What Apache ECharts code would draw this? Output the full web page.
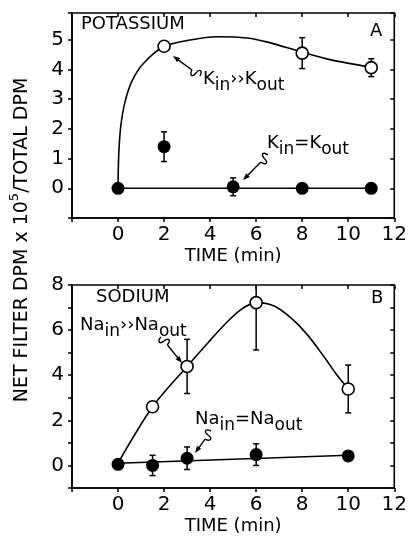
<!DOCTYPE html>
<html><head><meta charset="utf-8">
<script src="https://cdn.jsdelivr.net/npm/echarts@6/dist/echarts.min.js"></script>
<style>html,body{margin:0;padding:0;background:#fff}#c{width:410px;height:542px}</style>
</head><body><div id="c"></div>
<script>
// ---- Panel A: potassium ----
const kHighX = [2, 8, 11];
const kHighY = [4.78, 4.55, 4.06];
const kHighErr = [0, 0.52, 0.3];
const kEqX = [0, 2, 5, 8, 11];
const kEqY = [0, 1.4, 0.05, 0, 0];
const kEqErr = [0, 0.5, 0.3, 0, 0];
// fitted curves
const kHighFitX = [0, 0.01, 0.04, 0.12, 0.3, 0.6, 1.1, 2, 3.2, 4.3, 5.6, 6.5, 8, 9.2, 11];
const kHighFitY = [0, 0.6, 1.3, 2.1, 2.9, 3.6, 4.2, 4.77, 5.0, 5.1, 5.06, 4.92, 4.58, 4.33, 4.07];
const kEqFitX = [0, 11];
const kEqFitY = [0, 0];
// ---- Panel B: sodium ----
const naHighX = [1.5, 3, 6, 10];
const naHighY = [2.6, 4.39, 7.22, 3.39];
const naHighErr = [0, 1.2, 2.1, 1.06];
const naEqX = [0, 1.5, 3, 6, 10];
const naEqY = [0.05, 0, 0.32, 0.48, 0.42];
const naEqErr = [0, 0.45, 0.5, 0.48, 0];
const naHighFitX = [0, 1.5, 3, 3.9, 4.63, 5.35, 6, 6.78, 7.5, 8.22, 8.94, 9.5, 10];
const naHighFitY = [0.1, 2.6, 4.39, 5.43, 6.25, 6.92, 7.22, 7.07, 6.55, 5.8, 4.83, 4.02, 3.39];
const naEqFitX = [0, 10];
const naEqFitY = [0.1, 0.45];
// axis tick labels
const xTicks = [0, 2, 4, 6, 8, 10, 12];
const yTicksA = [0, 1, 2, 3, 4, 5];
const yTicksB = [0, 2, 4, 6, 8];

const FONT = 'DejaVu Sans';
const zip = (xs, ys) => xs.map((x, i) => [x, ys[i]]);
const zip3 = (xs, ys, es) => xs.map((x, i) => [x, ys[i], es[i]]);

function xAx(grid, inside) {
  return {
    gridIndex: grid, type: 'value', min: -2, max: 12, interval: 2,
    name: inside ? '' : 'TIME (min)', nameLocation: 'middle', nameGap: 29,
    nameTextStyle: {fontFamily: FONT, fontSize: 18, color: '#000'},
    axisLine: {show: !inside, onZero: false, lineStyle: {color: '#000', width: 1.6}},
    axisTick: {show: true, inside: inside, length: 4, lineStyle: {color: '#000', width: 1.5}},
    axisLabel: {show: !inside, margin: 7, fontFamily: FONT, fontSize: 20, color: '#000',
      formatter: v => xTicks.indexOf(v) >= 0 ? String(v) : ''},
    splitLine: {show: false}
  };
}
function yAx(grid, inside, max, ticks) {
  return {
    gridIndex: grid, type: 'value', min: -1, max: max, interval: 1,
    axisLine: {show: !inside, onZero: false, lineStyle: {color: '#000', width: 1.6}},
    axisTick: {show: true, inside: inside, length: 4, lineStyle: {color: '#000', width: 1.5}},
    axisLabel: {show: !inside, margin: 8, fontFamily: FONT, fontSize: 20, color: '#000',
      formatter: v => ticks.indexOf(v) >= 0 ? String(v) : ''},
    splitLine: {show: false}
  };
}

function errSeries(xi, yi, data) {
  return {
    type: 'custom', xAxisIndex: xi, yAxisIndex: yi, clip: true, z: 1,
    data: data,
    renderItem: function (params, api) {
      const x = api.value(0), y = api.value(1), e = api.value(2);
      if (!e) return null;
      const t = api.coord([x, y + e]), b = api.coord([x, y - e]);
      const w = 3;
      const st = {stroke: '#000', lineWidth: 1.5};
      return {type: 'group', children: [
        {type: 'line', shape: {x1: t[0], y1: t[1], x2: b[0], y2: b[1]}, style: st},
        {type: 'line', shape: {x1: t[0] - w, y1: t[1], x2: t[0] + w, y2: t[1]}, style: st},
        {type: 'line', shape: {x1: b[0] - w, y1: b[1], x2: b[0] + w, y2: b[1]}, style: st}
      ]};
    }
  };
}
function lineSeries(xi, yi, data, smooth) {
  return {type: 'line', xAxisIndex: xi, yAxisIndex: yi, data: data, smooth: smooth,
    showSymbol: false, symbol: 'none', z: 2, lineStyle: {color: '#000', width: 1.6}, silent: true};
}
function pts(xi, yi, data, open) {
  return {type: 'scatter', xAxisIndex: xi, yAxisIndex: yi, data: data, z: 5,
    symbol: 'circle', symbolSize: open ? 12 : 13,
    itemStyle: {color: open ? '#fff' : '#000', borderColor: '#000', borderWidth: open ? 1.6 : 0, opacity: 1}};
}

const chart = echarts.init(document.getElementById('c'));
chart.setOption({
  animation: false,
  backgroundColor: '#fff',
  grid: [
    {left: 72, top: 13, right: 11, height: 205, show: true, borderColor: '#000', borderWidth: 1.6, backgroundColor: 'transparent'},
    {left: 72, top: 285, right: 11, height: 203, show: true, borderColor: '#000', borderWidth: 1.6, backgroundColor: 'transparent'}
  ],
  xAxis: [xAx(0, false), xAx(0, true), xAx(1, false), xAx(1, true)],
  yAxis: [yAx(0, false, 5.9, yTicksA), yAx(0, true, 5.9, yTicksA), yAx(1, false, 8, yTicksB), yAx(1, true, 8, yTicksB)],
  series: [
    lineSeries(0, 0, zip(kHighFitX, kHighFitY), 0.3),
    lineSeries(0, 0, zip(kEqFitX, kEqFitY), false),
    errSeries(0, 0, zip3(kHighX, kHighY, kHighErr)),
    errSeries(0, 0, zip3(kEqX, kEqY, kEqErr)),
    pts(0, 0, zip(kHighX, kHighY), true),
    pts(0, 0, zip(kEqX, kEqY), false),
    lineSeries(2, 2, zip(naHighFitX, naHighFitY), 0.3),
    lineSeries(2, 2, zip(naEqFitX, naEqFitY), false),
    errSeries(2, 2, zip3(naHighX, naHighY, naHighErr)),
    errSeries(2, 2, zip3(naEqX, naEqY, naEqErr)),
    pts(2, 2, zip(naHighX, naHighY), true),
    pts(2, 2, zip(naEqX, naEqY), false)
  ]
});

// ---- annotations ----
const rich = {
  m: {fontFamily: FONT, fontSize: 18, color: '#000', verticalAlign: 'top', lineHeight: 18},
  s: {fontFamily: FONT, fontSize: 17, color: '#000', verticalAlign: 'bottom', lineHeight: 24}
};
function lbl(x, y, text, size) {
  return {type: 'text', x: x, y: y, z: 10,
    style: {text: text, fontFamily: FONT, fontSize: size || 18, fill: '#000', textAlign: 'left', textVerticalAlign: 'middle'}};
}
function richLbl(x, y, text) {
  return {type: 'text', x: x, y: y + 3, z: 10,
    style: {text: text, rich: rich, textAlign: 'left', textVerticalAlign: 'middle'}};
}
function squiggle(x0, y0, x1, y1) {
  const dx = x1 - x0, dy = y1 - y0;
  const L = Math.hypot(dx, dy), ux = dx / L, uy = dy / L, nx = -uy, ny = ux;
  const p = (a, b) => [x0 + ux * a + nx * b, y0 + uy * a + ny * b];
  const st = {stroke: '#000', lineWidth: 1.4, fill: null};
  const bz = (a, c1, c2, b) => ({type: 'bezierCurve', z: 10, style: st,
    shape: {x1: a[0], y1: a[1], cpx1: c1[0], cpy1: c1[1], cpx2: c2[0], cpy2: c2[1], x2: b[0], y2: b[1]}});
  const e = p(L - 6, 0);
  const h1 = p(L - 7, 2.6), h2 = p(L - 7, -2.6);
  return [
    bz(p(0, 0), p(1, 6), p(5, 6), p(5, 0)),
    bz(p(5, 0), p(5, -6), p(9, -6), p(10, 0)),
    {type: 'line', z: 10, style: st, shape: {x1: p(10, 0)[0], y1: p(10, 0)[1], x2: e[0], y2: e[1]}},
    {type: 'polygon', z: 10, shape: {points: [[x1, y1], h1, h2]}, style: {fill: '#000'}}
  ];
}
const yName = '{n|NET FILTER DPM x 10}{p|5}{n|/TOTAL DPM}';
chart.setOption({
  graphic: [
    lbl(81, 24, 'POTASSIUM'),
    lbl(370, 31, 'A'),
    richLbl(203, 79, '{m|K}{s|in}{m|››K}{s|out}'),
    richLbl(267, 143, '{m|K}{s|in}{m|=K}{s|out}'),
    lbl(96, 297, 'SODIUM'),
    lbl(371, 298, 'B'),
    richLbl(80, 325, '{m|Na}{s|in}{m|››Na}{s|out}'),
    richLbl(195, 419, '{m|Na}{s|in}{m|=Na}{s|out}'),
    ...squiggle(200, 76, 173, 56),
    ...squiggle(268, 155, 243, 180),
    ...squiggle(161, 337, 182, 363),
    ...squiggle(211, 431, 195, 453),
    {type: 'text', x: 20, y: 240, rotation: Math.PI / 2, z: 10,
      style: {text: yName, textAlign: 'center', textVerticalAlign: 'middle',
        rich: {
          n: {fontFamily: FONT, fontSize: 19, color: '#000', verticalAlign: 'bottom', lineHeight: 24},
          p: {fontFamily: FONT, fontSize: 13, color: '#000', verticalAlign: 'top', lineHeight: 14}
        }}}
  ]
});
</script></body></html>
